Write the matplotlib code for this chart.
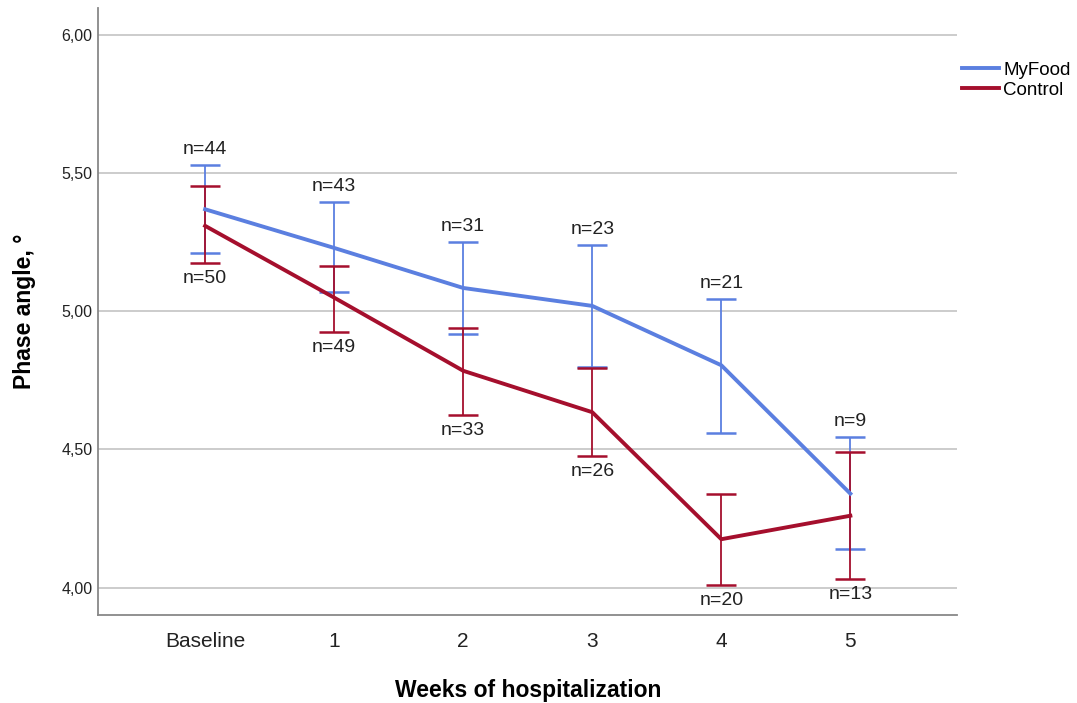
import numpy as np
import matplotlib.pyplot as plt

plt.rcParams["font.family"] = ["Liberation Sans", "DejaVu Sans"]

weeks = ["Baseline", "1", "2", "3", "4", "5"]

myfood_mean = [5.37, 5.23, 5.085, 5.02, 4.805, 4.34]
myfood_upper = [5.53, 5.395, 5.25, 5.24, 5.045, 4.545]
myfood_lower = [5.21, 5.07, 4.92, 4.80, 4.56, 4.14]
myfood_n = [44, 43, 31, 23, 21, 9]

control_mean = [5.31, 5.05, 4.785, 4.635, 4.175, 4.26]
control_upper = [5.455, 5.165, 4.94, 4.795, 4.34, 4.49]
control_lower = [5.175, 4.925, 4.625, 4.475, 4.01, 4.03]
control_n = [50, 49, 33, 26, 20, 13]

blue = "#5b7fe0"
red = "#a50f2d"

fig = plt.figure(figsize=(10.77, 7.03), dpi=100)
ax = fig.add_axes([0.091, 0.125, 0.798, 0.864])

x = np.arange(len(weeks))


def draw_group(mean, lower, upper, color, label):
    mean = np.array(mean)
    err = [mean - np.array(lower), np.array(upper) - mean]
    ax.errorbar(x, mean, yerr=err, fmt="none", ecolor=color,
                elinewidth=1.3, capsize=11, capthick=1.8, zorder=3)
    ax.plot(x, mean, color=color, lw=2.8, label=label, zorder=4)


draw_group(myfood_mean, myfood_lower, myfood_upper, blue, "MyFood")
draw_group(control_mean, control_lower, control_upper, red, "Control")

for i in range(len(weeks)):
    ax.annotate(f"n={myfood_n[i]}", (x[i], myfood_upper[i]), xytext=(0, 5),
                textcoords="offset points", ha="center", va="bottom",
                fontsize=14, color="#222222")
    ax.annotate(f"n={control_n[i]}", (x[i], control_lower[i]), xytext=(0, -5),
                textcoords="offset points", ha="center", va="top",
                fontsize=14, color="#222222")

ax.set_xlim(-0.83, 5.83)
ax.set_ylim(3.9, 6.1)
ax.set_xticks(x)
ax.set_xticklabels(weeks, fontsize=15, color="#222222")
ax.set_yticks([4.0, 4.5, 5.0, 5.5, 6.0])
ax.set_yticklabels(["4,00", "4,50", "5,00", "5,50", "6,00"], fontsize=11.5,
                   color="#222222")
ax.tick_params(length=0, pad=4)
ax.tick_params(axis="x", pad=12)

ax.grid(axis="y", color="#c8c8c8", lw=1.3)
ax.set_axisbelow(True)
for s in ["top", "right"]:
    ax.spines[s].set_visible(False)
for s in ["left", "bottom"]:
    ax.spines[s].set_color("#888888")
    ax.spines[s].set_linewidth(1.3)

ax.set_xlabel("Weeks of hospitalization", fontsize=16.5, fontweight="bold",
              labelpad=20)
ax.set_ylabel("Phase angle, °", fontsize=16.5, fontweight="bold", labelpad=18)

fig.legend(loc="upper left", bbox_to_anchor=(0.893, 0.912), frameon=False,
           fontsize=13.5, handlelength=2.0, handletextpad=0.2, labelspacing=0.15,
           borderpad=0, borderaxespad=0)

fig.savefig("out.png", dpi=100)
